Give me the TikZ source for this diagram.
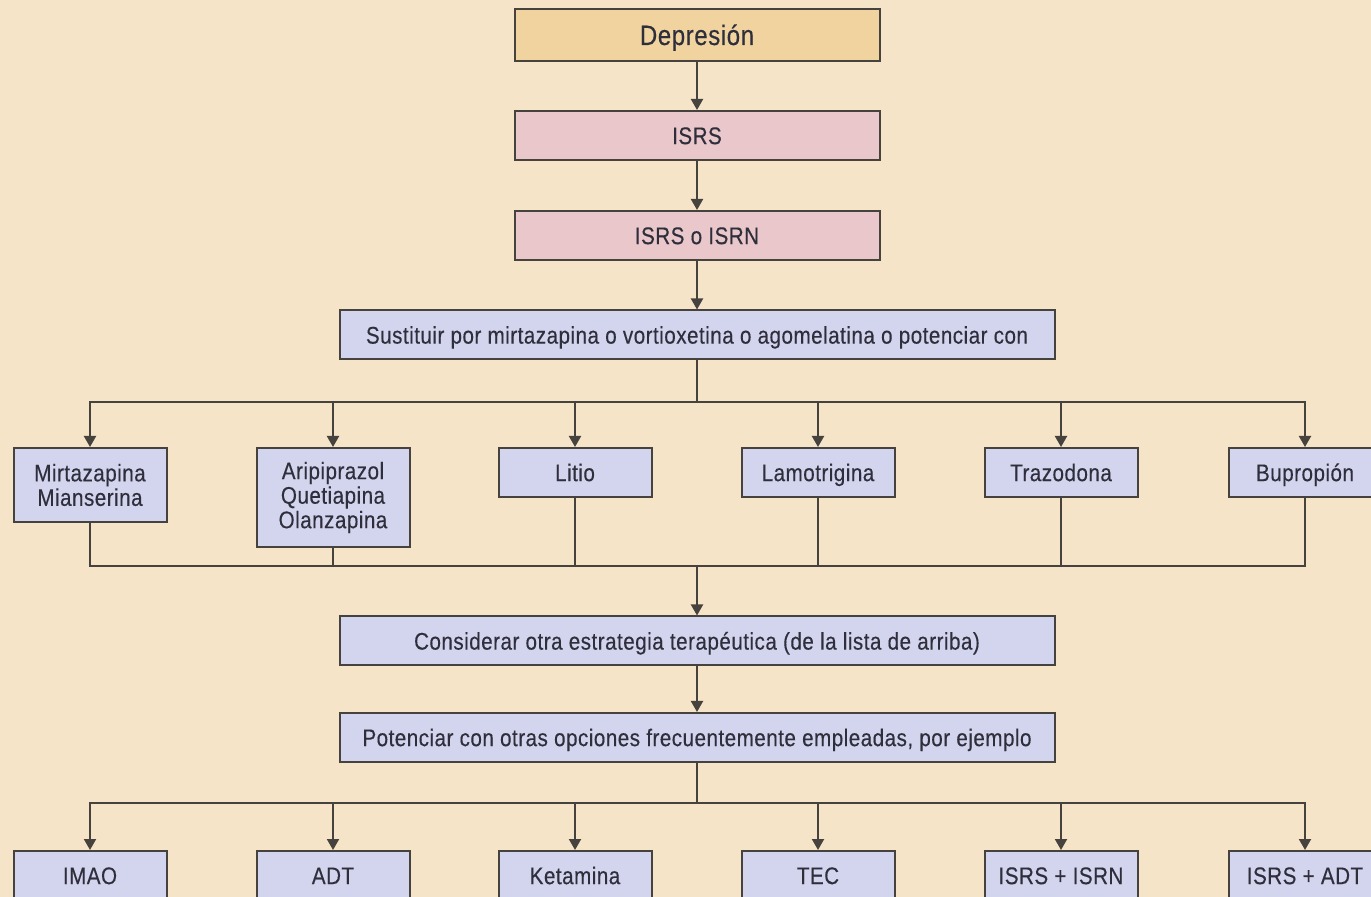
\documentclass[tikz,border=0pt]{standalone}
\usepackage{fontspec}
\setmainfont{Liberation Sans}[FakeBold=0.3, FakeStretch=0.86, LetterSpace=2]
\usetikzlibrary{arrows.meta}
\definecolor{fondo}{HTML}{F5E4C7}
\definecolor{ocre}{HTML}{F0D39F}
\definecolor{rosa}{HTML}{E9C7CA}
\definecolor{lila}{HTML}{D3D5EF}
\definecolor{borde}{HTML}{46423E}
\definecolor{letra}{HTML}{2F2F3C}
\tikzset{
  caja/.style={draw=borde, line width=1pt, text=letra, align=center, inner sep=2pt,
    font=\fontsize{12}{12.25}\selectfont, minimum width=76.5pt, minimum height=24.5pt},
  una/.style={caja, fill=lila, text height=9pt, text depth=0.4pt},
  ancha/.style={una, minimum width=357.5pt},
  flecha/.style={draw=borde, line width=1pt, -{Triangle[length=5.5pt,width=6pt]}},
  linea/.style={draw=borde, line width=1pt}
}
\begin{document}
\begin{tikzpicture}[x=0.5pt, y=-0.5pt]
    \fill[fondo] (0,0) rectangle (1371,897);
    \useasboundingbox (0,0) rectangle (1371,897);
    \node[una, fill=ocre, minimum width=182.5pt, minimum height=26pt, text height=10.4pt, font=\fontsize{14}{15}\selectfont] (dep) at (697,35) {Depresión};
    \node[una, fill=rosa, minimum width=182.5pt] (isrs) at (697,135.5) {ISRS};
    \node[una, fill=rosa, minimum width=182.5pt] (isrn) at (697,235.5) {ISRS o ISRN};
    \node[ancha] (sust) at (697,335) {Sustituir por mirtazapina o vortioxetina o agomelatina o potenciar con};
    \draw[flecha] (dep) -- (isrs);
    \draw[flecha] (isrs) -- (isrn);
    \draw[flecha] (isrn) -- (sust);
    \node[caja, fill=lila, anchor=north, minimum height=37pt] (mirt) at (90,447) {Mirtazapina\\Mianserina};
    \node[caja, fill=lila, anchor=north, minimum height=49.5pt] (arip) at (333,447) {Aripiprazol\\Quetiapina\\Olanzapina};
    \node[una, anchor=north] (litio) at (575,447) {Litio};
    \node[una, anchor=north] (lamo) at (818,447) {Lamotrigina};
    \node[una, anchor=north] (traz) at (1061,447) {Trazodona};
    \node[una, anchor=north] (bupr) at (1305,447) {Bupropión};
    \coordinate (rama) at (697,402);
    \coordinate (junta) at (697,566);
    \draw[linea] (sust) -- (rama);
    \foreach \n in {mirt,arip,litio,lamo,traz,bupr} {
      \draw[flecha] (rama) -| (\n);
      \draw[linea] (\n) |- (junta);
    }
    \node[ancha] (cons) at (697,641) {Considerar otra estrategia terapéutica (de la lista de arriba)};
    \node[ancha] (pot) at (697,737.5) {Potenciar con otras opciones frecuentemente empleadas, por ejemplo};
    \draw[flecha] (junta) -- (cons);
    \draw[flecha] (cons) -- (pot);
    \node[una, anchor=north] (imao) at (90,850) {IMAO};
    \node[una, anchor=north] (adt) at (333,850) {ADT};
    \node[una, anchor=north] (keta) at (575,850) {Ketamina};
    \node[una, anchor=north] (tec) at (818,850) {TEC};
    \node[una, anchor=north] (isisrn) at (1061,850) {ISRS + ISRN};
    \node[una, anchor=north] (isadt) at (1305,850) {ISRS + ADT};
    \coordinate (rama2) at (697,803);
    \draw[linea] (pot) -- (rama2);
    \foreach \n in {imao,adt,keta,tec,isisrn,isadt}
      \draw[flecha] (rama2) -| (\n);
\end{tikzpicture}
\end{document}
